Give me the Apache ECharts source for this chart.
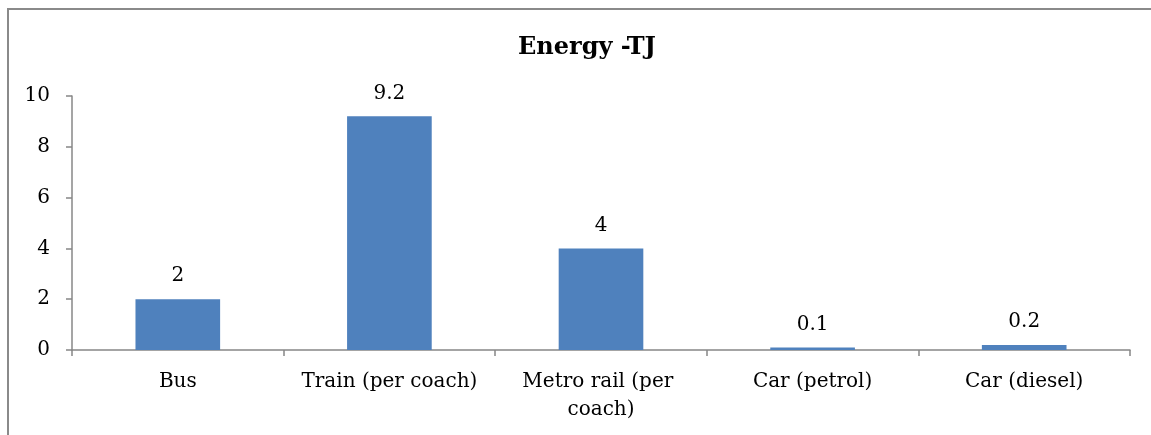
<!DOCTYPE html>
<html>
<head>
<meta charset="utf-8">
<script src="https://cdn.jsdelivr.net/npm/echarts@6/dist/echarts.min.js"></script>
<style>
  html, body { margin: 0; padding: 0; background: #ffffff; }
  #chart { width: 1151px; height: 435px; }
</style>
</head>
<body>
<div id="chart"></div>
<script>
// Energy use per mode of transport, in terajoules
const categories = ['Bus', 'Train (per coach)', 'Metro rail (per coach)', 'Car (petrol)', 'Car (diesel)'];
const energyTJ = [2, 9.2, 4, 0.1, 0.2];
const yTicks = [0, 2, 4, 6, 8, 10];

const FONT = '"DejaVu Serif", serif';
const AXIS_GREY = '#878787';

const chart = echarts.init(document.getElementById('chart'), null, { renderer: 'canvas' });

chart.setOption({
  backgroundColor: '#ffffff',
  animation: false,
  title: {
    text: 'Energy -TJ',
    left: 582,
    top: 31,
    textAlign: 'center',
    textStyle: { fontFamily: FONT, fontSize: 24, fontWeight: 'bold', color: '#000000' }
  },
  graphic: [{
    type: 'rect',
    shape: { x: 8, y: 9, width: 1170, height: 460 },
    style: { fill: null, stroke: '#8a8a8a', lineWidth: 2 },
    silent: true
  }],
  grid: { left: 72, right: 21, top: 96, bottom: 85 },
  xAxis: {
    type: 'category',
    data: categories,
    axisLine: { lineStyle: { color: AXIS_GREY, width: 1.5 } },
    axisTick: { show: true, length: 6, lineStyle: { color: AXIS_GREY, width: 1.5 } },
    axisLabel: {
      fontFamily: FONT, fontSize: 20, color: '#000000',
      margin: 18, lineHeight: 28,
      width: 200, overflow: 'break', interval: 0
    }
  },
  yAxis: {
    type: 'value',
    min: yTicks[0],
    max: yTicks[yTicks.length - 1],
    interval: yTicks[1] - yTicks[0],
    splitLine: { show: false },
    axisLine: { show: true, lineStyle: { color: AXIS_GREY, width: 1.5 } },
    axisTick: { show: true, length: 6, lineStyle: { color: AXIS_GREY, width: 1.5 } },
    axisLabel: { fontFamily: FONT, fontSize: 20, color: '#000000', margin: 22 }
  },
  series: [{
    type: 'bar',
    data: energyTJ,
    barWidth: '40%',
    itemStyle: { color: '#4f81bd' },
    label: {
      show: true,
      position: 'top',
      distance: 13,
      fontFamily: FONT, fontSize: 20, color: '#000000',
      formatter: '{c}'
    }
  }]
});
</script>
</body>
</html>
